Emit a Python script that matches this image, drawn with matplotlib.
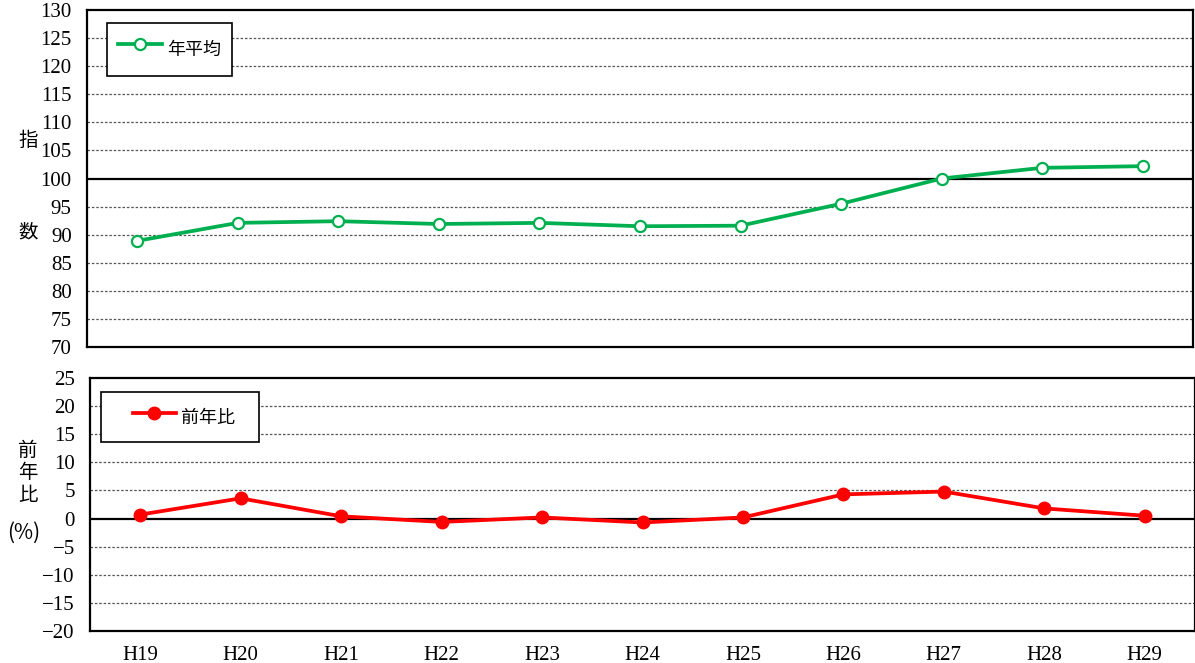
import matplotlib
matplotlib.use("Agg")
import matplotlib.pyplot as plt
from matplotlib.legend_handler import HandlerLine2D
import numpy as np

years = ["H19", "H20", "H21", "H22", "H23", "H24", "H25", "H26", "H27", "H28", "H29"]
index_avg = [88.9, 92.1, 92.4, 91.9, 92.1, 91.5, 91.6, 95.5, 100.0, 101.9, 102.2]
yoy = [0.7, 3.6, 0.4, -0.6, 0.2, -0.7, 0.2, 4.3, 4.8, 1.8, 0.5]

W, H = 1195, 663
fig = plt.figure(figsize=(W / 100, H / 100), dpi=100)

SERIF = ["Liberation Serif", "DejaVu Serif"]
JP = ["Noto Sans CJK JP", "DejaVu Sans"]


def box(x0, y0, x1, y1):
    # pixel box -> figure fraction
    return [x0 / W, 1 - y1 / H, (x1 - x0) / W, (y1 - y0) / H]


def style_axis(ax, ticks, base):
    ax.set_xlim(-0.5, len(years) - 0.5)
    ax.set_yticks(ticks)
    ax.set_yticklabels([str(t).replace("-", "\u2212") for t in ticks],
                       fontfamily=SERIF, fontsize=15)
    for t in ticks[1:-1]:
        if t == base:
            ax.axhline(t, color="black", lw=1.6, zorder=1)
        else:
            ax.axhline(t, color="#555555", lw=0.9, ls=(0, (2, 1.5)), zorder=1)
    for s in ax.spines.values():
        s.set_linewidth(1.6)
    ax.tick_params(axis="y", length=0, pad=11)
    ax.tick_params(axis="x", length=0)


x = np.arange(len(years))

ax1 = fig.add_axes(box(87, 10, 1193, 347))
ax1.plot(x, index_avg, color="#00b050", lw=2.7, marker="o", ms=8,
         mfc="white", mec="#00b050", mew=1.6, zorder=3, label="年平均")
ax1.set_ylim(70, 130)
style_axis(ax1, list(range(70, 131, 5)), 100)
ax1.set_xticks([])
leg1 = ax1.legend(loc="upper left", bbox_to_anchor=(0.018, 0.962),
                  prop={"family": JP, "size": 13}, fancybox=False,
                  edgecolor="black", framealpha=1, handlelength=2.45,
                  handleheight=2.3, handletextpad=0.3,
                  borderpad=0.6, borderaxespad=0)
leg1.get_frame().set_linewidth(1.2)

ax2 = fig.add_axes(box(90, 378, 1195, 631))
ax2.plot(x, yoy, color="#ff0000", lw=2.7, marker="o", ms=9,
         mfc="#ff0000", mec="#ff0000", zorder=3, label="前年比   ")
ax2.set_ylim(-20, 25)
style_axis(ax2, list(range(-20, 26, 5)), 0)
ax2.set_xticks(x)
ax2.set_xticklabels(years, fontfamily=SERIF, fontsize=15)
ax2.tick_params(axis="x", pad=11)
leg2 = ax2.legend(loc="upper left", bbox_to_anchor=(0.0100, 0.945),
                  prop={"family": JP, "size": 13}, fancybox=False,
                  edgecolor="black", framealpha=1, handlelength=3.5,
                  handleheight=1.9, handletextpad=0.3,
                  borderpad=0.65, borderaxespad=0,
                  handler_map={ax2.lines[0]: HandlerLine2D(xpad=1.1)})
leg2.get_frame().set_linewidth(1.2)

# stacked vertical axis labels
for ch, yy in [("指", 140), ("数", 232)]:
    fig.text(28 / W, 1 - yy / H, ch, fontfamily=JP, fontsize=14,
             ha="center", va="center")
for ch, yy in [("前", 450), ("年", 472), ("比", 495)]:
    fig.text(28 / W, 1 - yy / H, ch, fontfamily=JP, fontsize=14,
             ha="center", va="center")
fig.text(24 / W, 1 - 533 / H, "(%)", fontfamily=JP, fontsize=15,
         ha="center", va="center")

fig.savefig("out.png", dpi=100)
